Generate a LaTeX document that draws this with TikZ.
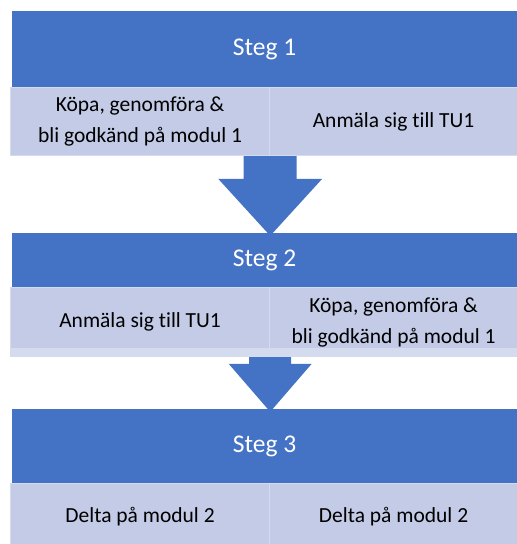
\documentclass[tikz,border=0pt]{standalone}
\usepackage{fontspec}
\setmainfont[Ligatures=NoCommon]{Carlito}
\usetikzlibrary{positioning,calc}
\definecolor{stegblue}{HTML}{4472C4}
\definecolor{cellfill}{HTML}{C3CBE6}
\definecolor{celledge}{HTML}{D5DBEE}

\begin{document}
\begin{tikzpicture}[x=1pt,y=-1pt]
		\def\midx{269}
		
		\tikzstyle{steg}=[rectangle,fill=stegblue,minimum width=505pt,inner sep=0pt,text=white,font=\fontsize{25.5}{30}\selectfont]
		\tikzstyle{cell}=[rectangle,fill=cellfill,draw=celledge,line width=1.2pt,inner sep=0pt,align=center,font=\fontsize{21.5}{31}\selectfont]
		\tikzstyle{left cell}=[cell,minimum width=259pt,anchor=north west]
		\tikzstyle{right cell}=[cell,minimum width=248pt,anchor=north west]
		\tikzstyle{pil}=[fill=stegblue]
		
		\useasboundingbox (0,0) rectangle (517,544);
		
		% Draw the step bars
		\node[steg,minimum height=76pt] (S-1) at (264.5,49) {Steg 1};
		\node[steg,minimum height=54pt] (S-2) at (264.5,260) {Steg 2};
		\node[steg,minimum height=74pt] (S-3) at (264.5,446) {Steg 3};
		
		% Draw the cells under each bar
		\node[left cell,minimum height=68pt] (L-1) at (10,87) {Köpa, genomföra \&\\bli godkänd på modul 1};
		\node[right cell,minimum height=68pt] (R-1) at (\midx,87) {Anmäla sig till TU1};
		\node[left cell,minimum height=69pt] (L-2) at (10,287) {Anmäla sig till TU1};
		\node[right cell,minimum height=69pt] (R-2) at (\midx,287) {Köpa, genomföra \&\\bli godkänd på modul 1};
		\fill[celledge] ($(L-2.south west)+(0,-9)$) rectangle (R-2.south east);
		\node[left cell,minimum height=66pt] (L-3) at (10,483) {Delta på modul 2};
		\node[right cell,minimum height=66pt] (R-3) at (\midx,483) {Delta på modul 2};
		
		% Block arrows from one step to the next
		% (shaft half width / head half width / head length)
		\foreach \from/\to/\sw/\hw/\hl in {L-1/S-2/26.5/52/54, L-2/S-3/21/41.5/45}
		\fill[pil] ($(\from.south east)+(-\sw,0)$) -- ($(\from.south east)+(\sw,0)$)
			-- ($(\from.south east |- \to.north)+(\sw,-\hl)$) -- ($(\from.south east |- \to.north)+(\hw,-\hl)$)
			-- ($(\from.south east |- \to.north)+(0,3)$)
			-- ($(\from.south east |- \to.north)+(-\hw,-\hl)$) -- ($(\from.south east |- \to.north)+(-\sw,-\hl)$) -- cycle;
	\end{tikzpicture}
\end{document}
